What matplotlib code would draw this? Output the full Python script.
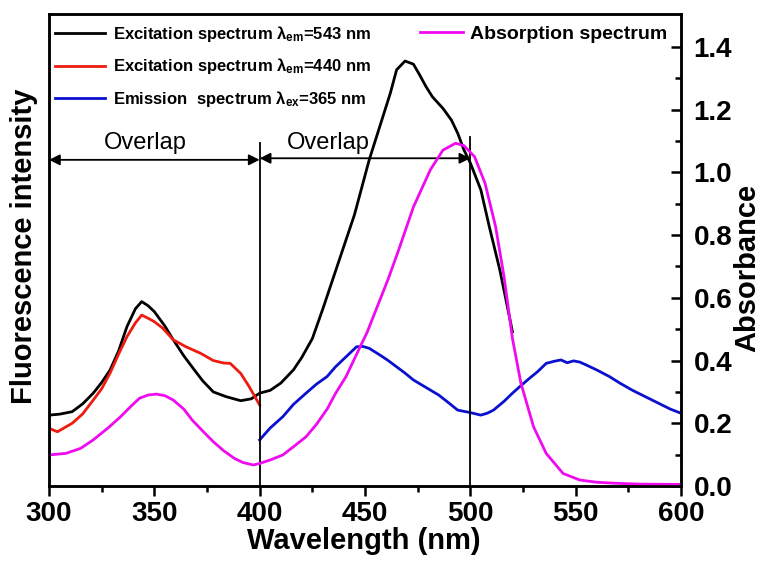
import matplotlib.pyplot as plt

plt.rcParams['font.family'] = ['Liberation Sans', 'DejaVu Sans']
plt.rcParams['mathtext.fontset'] = 'custom'
plt.rcParams['mathtext.rm'] = 'Liberation Sans:bold'
plt.rcParams['mathtext.bf'] = 'Liberation Sans:bold'
plt.rcParams['mathtext.it'] = 'Liberation Sans:bold'

# excitation spectrum, emission at 543 nm
ex543_wl = [300, 305, 311, 316, 321, 325, 329, 333, 337, 341, 344, 347, 350, 355, 359, 364, 369, 373, 378, 384,
            391, 396, 400, 405, 410, 416, 420, 425, 430, 435, 440, 445, 452, 457, 462, 465, 469, 473, 476, 479,
            482, 487, 491, 494, 497, 500, 505, 509, 514, 520]
ex543 = [0.226, 0.229, 0.237, 0.262, 0.296, 0.33, 0.37, 0.43, 0.508, 0.565, 0.588, 0.575, 0.556, 0.51, 0.466, 0.415,
         0.37, 0.335, 0.30, 0.285, 0.272, 0.278, 0.296, 0.305, 0.328, 0.37, 0.41, 0.47, 0.565, 0.665, 0.765, 0.865,
         1.04, 1.146, 1.252, 1.327, 1.355, 1.345, 1.31, 1.273, 1.241, 1.204, 1.167, 1.125, 1.071, 1.03, 0.944,
         0.827, 0.689, 0.492]

# excitation spectrum, emission at 440 nm
ex440_wl = [300, 304, 311, 316, 321, 325, 329, 333, 337, 341, 344, 347, 350, 354, 359, 365, 372, 378, 383, 386,
            391, 395, 400]
ex440 = [0.184, 0.173, 0.20, 0.23, 0.274, 0.31, 0.36, 0.42, 0.476, 0.52, 0.545, 0.535, 0.524, 0.503, 0.466, 0.444,
         0.423, 0.40, 0.392, 0.391, 0.359, 0.317, 0.258]

# emission spectrum, excitation at 365 nm
em365_wl = [400, 405, 411, 416, 422, 427, 432, 436, 441, 446, 449, 452, 457, 461, 465, 469, 473, 477, 481, 485,
            489, 494, 500, 505, 508, 511, 516, 520, 524, 528, 532, 536, 540, 543, 546, 549, 552, 555, 560, 566,
            571, 577, 583, 589, 595, 600]
em365 = [0.147, 0.185, 0.221, 0.26, 0.296, 0.325, 0.349, 0.38, 0.412, 0.444, 0.445, 0.439, 0.418, 0.40, 0.38, 0.36,
         0.338, 0.322, 0.306, 0.29, 0.269, 0.242, 0.234, 0.226, 0.232, 0.242, 0.27, 0.296, 0.32, 0.343, 0.365,
         0.391, 0.398, 0.402, 0.393, 0.399, 0.395, 0.386, 0.37, 0.349, 0.328, 0.305, 0.285, 0.265, 0.245, 0.232]

# absorption spectrum (right axis)
abs_wl = [300, 308, 315, 321, 328, 334, 339, 343, 347, 351, 355, 359, 364, 368, 373, 378, 383, 388, 392, 397,
          400, 405, 411, 416, 422, 427, 432, 436, 441, 446, 451, 456, 461, 466, 473, 481, 487, 493, 497, 502,
          507, 512, 516, 520, 524, 530, 536, 544, 552, 560, 568, 580, 600]
abs_val = [0.099, 0.104, 0.12, 0.147, 0.185, 0.221, 0.255, 0.28, 0.29, 0.293, 0.288, 0.274, 0.245, 0.21, 0.175,
           0.141, 0.112, 0.088, 0.075, 0.067, 0.072, 0.083, 0.099, 0.125, 0.157, 0.197, 0.245, 0.295, 0.349, 0.42,
           0.49, 0.575, 0.66, 0.753, 0.89, 1.008, 1.071, 1.093, 1.085, 1.05, 0.965, 0.827, 0.667, 0.47, 0.328,
           0.189, 0.104, 0.04, 0.019, 0.012, 0.009, 0.006, 0.005]

x_ticks = [300, 350, 400, 450, 500, 550, 600]
abs_ticks = [0.0, 0.2, 0.4, 0.6, 0.8, 1.0, 1.2, 1.4]

red = '#ee1c10'
blue = '#0a10d0'
magenta = '#f00af0'

fig = plt.figure(figsize=(7.64, 5.65), dpi=100)
ax1 = fig.add_axes([49 / 764, 1 - 486 / 565, (681 - 49) / 764, (486 - 14) / 565])
ax2 = ax1.twinx()

l1, = ax1.plot(ex543_wl, ex543, color='black', lw=2)
l2, = ax1.plot(ex440_wl, ex440, color=red, lw=2)
l3, = ax1.plot(em365_wl, em365, color=blue, lw=2)
l4, = ax2.plot(abs_wl, abs_val, color=magenta, lw=2)

# overlap markers
ax1.plot([400, 400], [0, 1.094], color='black', lw=1.3)
ax1.plot([500, 500], [0, 1.113], color='black', lw=1.3)
ax1.annotate('', xy=(300, 1.04), xytext=(400, 1.04),
             arrowprops=dict(arrowstyle='<|-|>', color='black', lw=1.3, shrinkA=0, shrinkB=0, mutation_scale=16))
ax1.annotate('', xy=(400, 1.045), xytext=(500, 1.045),
             arrowprops=dict(arrowstyle='<|-|>', color='black', lw=1.3, shrinkA=0, shrinkB=0, mutation_scale=16))
ax1.text(345.6, 1.075, 'Overlap', ha='center', va='baseline', fontsize=17)
ax1.text(432.7, 1.075, 'Overlap', ha='center', va='baseline', fontsize=17)

ax1.set_xlim(300, 600)
ax1.set_ylim(0, 1.505)
ax2.set_ylim(0, 1.505)
ax1.set_yticks([])
ax1.set_xticks(x_ticks)
ax1.set_xticks(range(325, 600, 50), minor=True)
ax2.set_yticks(abs_ticks)
ax2.set_yticks([0.1, 0.3, 0.5, 0.7, 0.9, 1.1, 1.3], minor=True)
ax2.set_yticklabels(['%.1f' % t for t in abs_ticks])

ax1.tick_params(axis='x', which='major', direction='out', length=7, width=1.8, labelsize=20, pad=4)
ax1.tick_params(axis='x', which='minor', direction='out', length=4, width=1.8)
ax2.tick_params(axis='y', which='major', direction='in', length=7, width=1.8, labelsize=20, pad=9)
ax2.tick_params(axis='y', which='minor', direction='in', length=4, width=1.8)
for lab in ax1.get_xticklabels() + ax2.get_yticklabels():
    lab.set_fontweight('bold')

for ax in (ax1, ax2):
    for sp in ax.spines.values():
        sp.set_linewidth(1.8)

ax1.set_xlabel('Wavelength (nm)', fontsize=21, fontweight='bold', va='center')
ax1.xaxis.set_label_coords((364 - 49) / 632, -(541 - 486) / 472)
ax1.set_ylabel('Fluorescence intensity', fontsize=21, fontweight='bold', va='center')
ax1.yaxis.set_label_coords(-(49 - 24) / 632, (486 - 246) / 472)
ax2.set_ylabel('Absorbance', fontsize=21, fontweight='bold', va='center')
ax2.yaxis.set_label_coords((747 - 49) / 632, (486 - 268) / 472)

leg1 = ax2.legend([l1, l2, l3],
                  [r'Excitation spectrum λ$_{\mathbf{em}}$=543 nm',
                   r'Excitation spectrum λ$_{\mathbf{em}}$=440 nm',
                   r'Emission  spectrum λ$_{\mathbf{ex}}$=365 nm'],
                  loc='upper left', bbox_to_anchor=((55 - 49) / 632, (486 - 24) / 472), frameon=False,
                  handlelength=3.0, handletextpad=0.5, labelspacing=0.75, borderpad=0, borderaxespad=0,
                  prop={'weight': 'bold', 'size': 12})
ax2.add_artist(leg1)
ax2.legend([l4], ['Absorption spectrum'], loc='upper left',
           bbox_to_anchor=((420 - 49) / 632, (486 - 25) / 472), frameon=False,
           handlelength=2.2, handletextpad=0.36, borderpad=0, borderaxespad=0,
           prop={'weight': 'bold', 'size': 14})

fig.savefig('out.png', dpi=100)
